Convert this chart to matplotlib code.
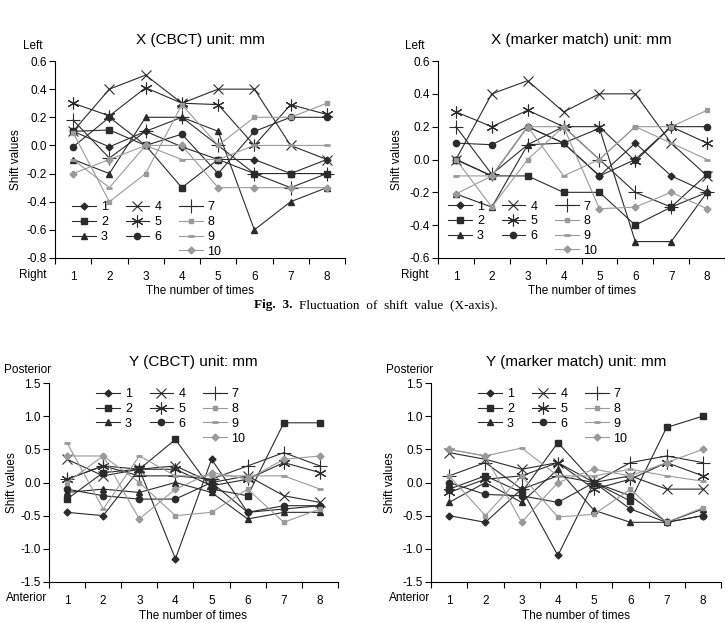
import matplotlib
matplotlib.use('Agg')
import matplotlib.pyplot as plt
from matplotlib.lines import Line2D

plt.rcParams['font.family'] = ['Liberation Sans', 'DejaVu Sans']

times = [1, 2, 3, 4, 5, 6, 7, 8]
labels = ['1', '2', '3', '4', '5', '6', '7', '8', '9', '10']

# X (CBCT), series 1..10
x_cbct = [
    [0.10, -0.01, 0.10, -0.01, -0.10, -0.10, -0.20, -0.10],
    [0.10, 0.11, 0.00, -0.30, -0.10, -0.20, -0.20, -0.20],
    [-0.10, -0.20, 0.20, 0.20, 0.10, -0.60, -0.40, -0.30],
    [0.10, 0.40, 0.50, 0.30, 0.40, 0.40, 0.00, -0.10],
    [0.30, 0.21, 0.41, 0.30, 0.29, 0.00, 0.29, 0.22],
    [-0.01, 0.20, 0.00, 0.08, -0.20, 0.10, 0.20, 0.20],
    [0.18, -0.09, 0.10, 0.20, 0.00, -0.20, -0.30, -0.20],
    [0.09, -0.40, -0.20, 0.29, 0.00, 0.20, 0.20, 0.30],
    [-0.10, -0.30, 0.00, -0.10, -0.10, 0.00, 0.00, 0.00],
    [-0.20, -0.10, 0.00, 0.00, -0.30, -0.30, -0.30, -0.30],
]

# X (marker match)
x_marker = [
    [0.00, -0.10, 0.20, 0.10, -0.10, 0.10, -0.10, -0.20],
    [0.00, -0.10, -0.10, -0.20, -0.20, -0.40, -0.29, -0.09],
    [-0.21, -0.29, 0.09, 0.10, 0.19, -0.50, -0.50, -0.20],
    [0.00, 0.40, 0.48, 0.29, 0.40, 0.40, 0.10, -0.10],
    [0.29, 0.20, 0.30, 0.20, 0.20, -0.01, 0.20, 0.10],
    [0.10, 0.09, 0.20, 0.10, -0.10, 0.00, 0.20, 0.20],
    [0.20, -0.09, 0.09, 0.20, 0.00, -0.20, -0.29, -0.20],
    [0.00, -0.29, 0.00, 0.20, 0.00, 0.20, 0.20, 0.30],
    [-0.10, -0.10, 0.20, -0.10, 0.00, 0.20, 0.10, 0.00],
    [-0.21, -0.10, 0.20, 0.20, -0.30, -0.29, -0.20, -0.30],
]

# Y (CBCT)
y_cbct = [
    [-0.45, -0.50, 0.20, -1.15, 0.35, -0.45, -0.40, -0.35],
    [-0.25, 0.15, 0.20, 0.65, -0.10, -0.20, 0.90, 0.90],
    [-0.15, -0.10, -0.15, 0.00, -0.15, -0.55, -0.45, -0.45],
    [0.35, 0.10, 0.20, 0.25, 0.00, 0.10, -0.20, -0.30],
    [0.05, 0.25, 0.20, 0.20, -0.05, 0.05, 0.30, 0.15],
    [-0.10, -0.20, -0.25, -0.25, 0.00, -0.45, -0.35, -0.35],
    [0.05, 0.25, 0.10, 0.10, 0.05, 0.25, 0.45, 0.25],
    [0.00, 0.40, 0.00, -0.50, -0.45, -0.10, -0.60, -0.40],
    [0.60, -0.40, 0.40, 0.10, 0.10, 0.10, 0.10, -0.10],
    [0.40, 0.40, -0.55, -0.10, 0.15, 0.05, 0.35, 0.40],
]

# Y (marker match)
y_marker = [
    [-0.50, -0.60, -0.10, -1.10, 0.00, -0.40, -0.60, -0.50],
    [-0.10, 0.10, -0.15, 0.60, 0.00, -0.28, 0.83, 1.00],
    [-0.30, 0.00, -0.30, 0.20, -0.42, -0.60, -0.60, -0.40],
    [0.45, 0.35, 0.20, 0.30, 0.00, 0.10, -0.10, -0.10],
    [-0.15, 0.05, 0.10, 0.30, -0.10, 0.05, 0.30, 0.10],
    [0.00, -0.18, -0.20, -0.30, 0.00, -0.20, -0.60, -0.50],
    [0.10, 0.30, -0.10, 0.10, 0.00, 0.30, 0.40, 0.30],
    [0.10, -0.50, 0.10, -0.52, -0.48, -0.10, -0.60, -0.38],
    [0.50, 0.40, 0.52, 0.10, 0.10, 0.20, 0.10, 0.02],
    [0.50, 0.40, -0.60, 0.00, 0.20, 0.10, 0.30, 0.50],
]

dark = '#2b2b2b'
gray = '#9a9a9a'
styles = [
    dict(color=dark, marker='D', ms=3.5),
    dict(color=dark, marker='s', ms=4),
    dict(color=dark, marker='^', ms=4.5),
    dict(color=dark, marker='x', ms=7.5, mew=0.8),
    dict(color=dark, marker=(6, 2, 0), ms=8.5, mew=0.8),
    dict(color=dark, marker='o', ms=4.5),
    dict(color=dark, marker='+', ms=10, mew=0.8),
    dict(color=gray, marker='s', ms=3.5),
    dict(color=gray, marker='_', ms=4.5, mew=2),
    dict(color=gray, marker='D', ms=3.5),
]

W, H = 725, 623


def px_rect(left, right, top, bottom):
    return [left / W, 1 - bottom / H, (right - left) / W, (bottom - top) / H]


def draw_panel(rect, data, title, ylim, yticks, leg_anchor, leg_loc, ylab_x):
    ax = fig.add_axes(rect)
    for vals, st in zip(data, styles):
        ax.plot(times, vals, lw=0.8, **st)
    ax.set_xlim(0.5, 8.5)
    ax.set_ylim(*ylim)
    ax.set_yticks(yticks)
    ax.set_yticklabels(['%.1f' % v for v in yticks])
    ax.set_xticks([i + 0.5 for i in range(0, 9)])
    ax.set_xticklabels([])
    ax.set_xticks(times, minor=True)
    ax.set_xticklabels([str(t) for t in times], minor=True)
    ax.tick_params(axis='x', which='minor', length=0, pad=9, labelsize=8.5)
    ax.tick_params(axis='x', which='major', length=4, width=0.8, direction='out')
    ax.tick_params(axis='y', length=4, width=0.8, labelsize=8.5, pad=2)
    for s in ['top', 'right']:
        ax.spines[s].set_visible(False)
    ax.set_title(title, fontsize=11, pad=12)
    ax.set_xlabel('The number of times', fontsize=8.5, va='center')
    ax.xaxis.set_label_coords(0.5, -0.17)
    ax.set_ylabel('Shift values', fontsize=8.5, va='center', ha='center')
    ax.yaxis.set_label_coords(ylab_x, 0.5)

    handles = []
    blank = Line2D([], [], linestyle='none', marker='')
    order = [0, 1, 2, None, 3, 4, 5, None, 6, 7, 8, 9]
    leg_labels = []
    for i in order:
        if i is None:
            handles.append(blank)
            leg_labels.append('')
        else:
            handles.append(Line2D([], [], lw=0.8, **styles[i]))
            leg_labels.append(labels[i])
    fig.legend(handles, leg_labels, ncol=3, frameon=False, fontsize=9,
               loc=leg_loc, bbox_to_anchor=(leg_anchor[0] / W, 1 - leg_anchor[1] / H),
               handlelength=1.9, columnspacing=1.4, labelspacing=0.22,
               handletextpad=0.4, borderpad=0)
    return ax


fig = plt.figure(figsize=(W / 100, H / 100), dpi=100)

draw_panel(px_rect(55, 345, 61, 258), x_cbct, 'X (CBCT) unit: mm',
           (-0.8, 0.6), [0.6, 0.4, 0.2, 0.0, -0.2, -0.4, -0.6, -0.8],
           (66, 264), 'lower left', -0.135)
draw_panel(px_rect(438, 725, 61, 258), x_marker, 'X (marker match) unit: mm',
           (-0.6, 0.6), [0.6, 0.4, 0.2, 0.0, -0.2, -0.4, -0.6],
           (442, 263), 'lower left', -0.143)
draw_panel(px_rect(49, 338, 383, 582), y_cbct, 'Y (CBCT) unit: mm',
           (-1.5, 1.5), [1.5, 1.0, 0.5, 0.0, -0.5, -1.0, -1.5],
           (90, 382), 'upper left', -0.128)
draw_panel(px_rect(431, 721, 383, 582), y_marker, 'Y (marker match) unit: mm',
           (-1.5, 1.5), [1.5, 1.0, 0.5, 0.0, -0.5, -1.0, -1.5],
           (472, 382), 'upper left', -0.14)

# direction labels
def ftext(x, y, s, **kw):
    fig.text(x / W, 1 - y / H, s, ha='center', va='center', fontsize=8.5, **kw)

ftext(33, 46, 'Left')
ftext(33, 275, 'Right')
ftext(415, 46, 'Left')
ftext(415, 275, 'Right')
ftext(28, 370, 'Posterior')
ftext(27, 598, 'Anterior')
ftext(410, 370, 'Posterior')
ftext(410, 598, 'Anterior')

# caption
serif = ['Liberation Serif', 'DejaVu Serif']
fig.text(292 / W, 1 - 305 / H, 'Fig.  3.', ha='right', va='center', fontsize=9.5,
         fontweight='bold', family=serif)
fig.text(299 / W, 1 - 305 / H, 'Fluctuation  of  shift  value  (X-axis).', ha='left',
         va='center', fontsize=9.5, family=serif)

fig.savefig('out.png', dpi=100)
